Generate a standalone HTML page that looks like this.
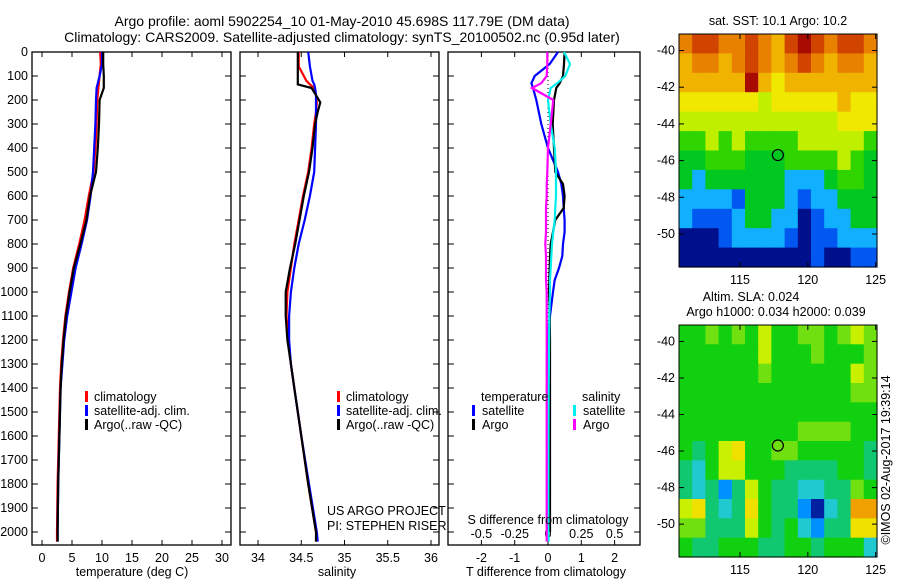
<!DOCTYPE html>
<html><head><meta charset="utf-8"><style>
body{margin:0;background:#fff}
svg{display:block;font-family:"Liberation Sans",sans-serif;font-size:12.5px}
</style></head><body>
<svg id="c" width="900" height="580" xmlns="http://www.w3.org/2000/svg">
<text x="342" y="26" text-anchor="middle" style="font-size:14px">Argo profile: aoml 5902254_10 01-May-2010 45.698S 117.79E (DM data)</text>
<text x="342" y="42" text-anchor="middle" style="font-size:14px">Climatology: CARS2009. Satellite-adjusted climatology: synTS_20100502.nc (0.95d later)</text>
<g id="g"></g>
</svg>
<script>
// ---- data ----
const depths=[0,50,100,150,200,300,400,500,600,700,800,900,1000,1100,1200,1300,1400,1600,1800,2000,2040];
const tempClim=[9.7,9.8,9.6,9.4,9.2,9.1,8.9,8.6,7.8,7.1,6.2,5.2,4.5,3.9,3.5,3.2,3.0,2.8,2.6,2.5,2.5];
const tempSat=[10.0,10.0,9.6,9.1,9.0,8.9,8.7,8.5,8.1,7.5,6.6,5.6,4.9,4.2,3.7,3.4,3.1,2.9,2.7,2.6,2.6];
const tempArgo=[10.2,10.2,10.3,10.3,9.6,9.5,9.3,9.0,8.0,7.4,6.4,5.3,4.6,4.0,3.6,3.3,3.1,2.9,2.7,2.6,2.6];
const salDepths=[0,60,120,135,150,180,210,250,300,400,500,600,700,800,900,1000,1100,1200,1300,1400,1600,1800,2000,2040];
const salClim=[34.47,34.47,34.56,34.6,34.65,34.67,34.68,34.67,34.65,34.62,34.58,34.52,34.47,34.42,34.38,34.34,34.33,34.35,34.38,34.42,34.5,34.58,34.67,34.68];
const salSat=[34.58,34.6,34.63,34.65,34.66,34.67,34.67,34.67,34.67,34.66,34.65,34.6,34.54,34.47,34.42,34.38,34.36,34.36,34.38,34.42,34.5,34.59,34.68,34.69];
const salArgo=[34.46,34.46,34.46,34.46,34.62,34.67,34.72,34.69,34.66,34.63,34.59,34.53,34.48,34.43,34.37,34.32,34.32,34.34,34.38,34.42,34.5,34.58,34.67,34.67];
const diffDepths=[0,50,100,130,150,200,300,400,500,550,600,650,700,750,800,850,900,950,1000,1100,1200,1400,1600,1850,2000,2040];
const dTSat=[0.3,0.05,-0.4,-0.5,-0.45,-0.35,-0.2,0.0,0.3,0.4,0.45,0.47,0.5,0.5,0.45,0.43,0.33,0.2,0.15,0.06,-0.02,-0.03,-0.03,-0.03,null,null];
const dTArgo=[0.5,0.48,0.45,0.35,0.25,0.18,0.14,0.18,0.22,0.45,0.5,0.47,0.22,0.15,0.08,0.06,0.05,0.04,0.03,0.05,0.06,0.06,0.06,0.06,0.06,null];
const dSSat=[0.12,0.165,0.13,0.07,0.02,0.0,0.02,0.05,0.06,0.06,0.06,0.055,0.05,0.04,0.03,0.025,0.02,0.015,0.015,0.01,0.008,0.005,0.004,0.003,0.003,0.005];
const dSArgo=[-0.005,-0.005,-0.01,-0.05,-0.12,0.04,0.02,0.0,-0.005,-0.01,-0.01,-0.015,-0.015,-0.015,-0.02,-0.015,-0.015,-0.015,-0.01,-0.01,-0.01,-0.01,-0.01,-0.01,-0.01,-0.01];
const depthTicks=[0,100,200,300,400,500,600,700,800,900,1000,1100,1200,1300,1400,1500,1600,1700,1800,1900,2000];
const tempTicks=[0,5,10,15,20,25,30];
const salTicks=[34,34.5,35,35.5,36];
const salTickLabels=["34","34.5","35","35.5","36"];
const dTTicks=[-2,-1,0,1,2];
const dSTicks=[-0.5,-0.25,0,0.25,0.5];
const dSTickLabels=["-0.5","-0.25","0","0.25","0.5"];
const latTicks=[-40,-42,-44,-46,-48,-50];
const lonTicks=[115,120,125];
const argoLon=117.79, argoLat=-45.698;
const sstGrid=[
[8,9,9,8,8,9,8,7,9,10,9,8,9,9,8],
[7,8,8,7,8,9,8,7,8,9,8,7,8,8,7],
[7,7,7,7,7,10,7,6,7,7,7,7,7,7,7],
[6,6,6,6,6,6,5,6,6,6,6,6,7,6,6],
[5,5,5,5,5,5,5,5,5,5,5,5,6,6,6],
[4,4,5,4,5,4,4,4,4,5,5,5,5,5,4],
[3,3,4,4,4,3,3,3,4,4,4,4,5,4,3],
[3,2,3,3,3,3,3,3,2,2,2,3,4,4,3],
[2,2,2,2,1,3,3,3,2,1,2,2,3,3,3],
[2,1,1,1,2,3,3,2,2,0,1,2,2,3,3],
[0,0,0,1,2,2,2,2,1,0,1,1,2,2,2],
[0,0,0,0,0,0,0,0,0,0,1,0,0,1,1]];
const slaGrid=[
[4,4,5,4,5,4,6,4,4,5,5,4,5,6,5],
[4,4,4,4,4,4,6,4,4,4,5,4,4,4,5],
[4,4,4,4,4,4,5,4,4,4,4,4,4,6,5],
[4,4,4,4,4,4,4,4,4,4,4,4,4,5,5],
[4,4,4,4,4,4,4,4,4,4,4,4,4,4,4],
[4,4,4,4,4,4,4,4,4,5,5,5,5,4,4],
[4,3,4,6,7,4,4,5,5,4,4,4,4,4,3],
[3,2,4,6,6,4,4,4,3,3,3,3,4,4,3],
[3,2,3,1,3,6,4,3,3,2,2,3,3,5,4],
[6,7,3,2,3,7,4,3,3,1,0,2,3,8,8],
[5,5,3,3,3,6,4,3,4,2,1,3,3,7,7],
[4,3,3,4,4,4,3,3,4,4,3,4,4,4,2]];
const sstColors=["#00108c","#0058f0","#10b0ff","#00c820","#30d400","#c0f000","#f0e800","#f0b400","#e88000","#d04400","#a80c00"];
const slaColors=["#0020a0","#0090ff","#20c8d0","#10c870","#10d010","#70e010","#c8f000","#f0e000","#f0a000"];

// ---- drawing ----
const NS="http://www.w3.org/2000/svg";
const G=document.getElementById('g');
function mk(tag,attrs,parent){const e=document.createElementNS(NS,tag);for(const k in attrs)e.setAttribute(k,attrs[k]);(parent||G).appendChild(e);return e;}
function txt(x,y,s,anchor,parent){const t=mk('text',{x:x,y:y,'text-anchor':anchor||'start'},parent);t.textContent=s;return t;}
const Y=d=>52+0.24*d;
const PB=545;
function tempX(v){return 42+6*v;}
function salX(v){return 258+86.5*(v-34);}
function dTX(v){return 548+33.3*v;}
function dSX(v){return 548+133.2*v;}
function panel(x0,x1,name){const r=mk('rect',{x:x0,y:Y(0),width:x1-x0,height:PB-Y(0),fill:'none',stroke:'#000','stroke-width':1.3});


depthTicks.forEach(d=>{mk('line',{x1:x0,x2:x0+6,y1:Y(d),y2:Y(d),stroke:'#000'});mk('line',{x1:x1-6,x2:x1,y1:Y(d),y2:Y(d),stroke:'#000'});});}
function line(xs,ds,fx,color,name,w){let p='';let started=false;
xs.forEach((v,i)=>{if(v===null)return;p+=(started?'L':'M')+fx(v).toFixed(1)+','+Y(ds[i]).toFixed(1);started=true;});
const e=mk('path',{d:p,fill:'none',stroke:color,'stroke-width':w||2.2});

}
// panel 1
panel(32,231,'temperature-axes');
depthTicks.forEach(d=>{const t=txt(28,Y(d)+4,String(d),'end');});
tempTicks.forEach(v=>{mk('line',{x1:tempX(v),x2:tempX(v),y1:Y(0),y2:Y(0)+5,stroke:'#000'});mk('line',{x1:tempX(v),x2:tempX(v),y1:PB-5,y2:PB,stroke:'#000'});
const t=txt(tempX(v),562,String(v),'middle');});
line(tempClim,depths,tempX,'#f00','temp-climatology-line');
line(tempSat,depths,tempX,'#00f','temp-satellite-line');
line(tempArgo,depths,tempX,'#000','temp-argo-line');
const xl1=txt(132,576,'temperature (deg C)','middle');
// panel 2
panel(240,439,'salinity-axes');
salTicks.forEach((v,i)=>{mk('line',{x1:salX(v),x2:salX(v),y1:Y(0),y2:Y(0)+5,stroke:'#000'});mk('line',{x1:salX(v),x2:salX(v),y1:PB-5,y2:PB,stroke:'#000'});
const t=txt(salX(v),562,salTickLabels[i],'middle');});
line(salClim,salDepths,salX,'#f00','sal-climatology-line');
line(salSat,salDepths,salX,'#00f','sal-satellite-line');
line(salArgo,salDepths,salX,'#000','sal-argo-line');
const xl2=txt(337,576,'salinity','middle');
const lg=[['#f00','climatology'],['#00f','satellite-adj. clim.'],['#000','Argo(..raw -QC)']];
[[87,'temp-legend'],[339,'sal-legend']].forEach(([lx,nm])=>{const gg=mk('g',{});
lg.forEach((l,i)=>{mk('rect',{x:lx-2,y:391+i*14,width:3,height:11,fill:l[0]},gg);txt(lx+7,401+i*14,l[1],'start',gg);});});
const cr=mk('g',{});
txt(327,515,'US ARGO PROJECT','start',cr);txt(327,530,'PI: STEPHEN RISER','start',cr);
// panel 3
panel(448,640,'difference-axes');
mk('line',{x1:dTX(0),x2:dTX(0),y1:Y(0),y2:Y(1150),stroke:'#000','stroke-dasharray':'1,3'});
dTTicks.forEach(v=>{mk('line',{x1:dTX(v),x2:dTX(v),y1:Y(0),y2:Y(0)+5,stroke:'#000'});mk('line',{x1:dTX(v),x2:dTX(v),y1:PB-5,y2:PB,stroke:'#000'});
const t=txt(dTX(v),562,String(v),'middle');});
dSTicks.forEach((v,i)=>{const t=txt(dSX(v),538,dSTickLabels[i],'middle');});
line(dTSat,diffDepths,dTX,'#00f','t-diff-satellite-line');
line(dTArgo,diffDepths,dTX,'#000','t-diff-argo-line');
line(dSSat,diffDepths,dSX,'#0ee','s-diff-satellite-line');
line(dSArgo,diffDepths,dSX,'#f0f','s-diff-argo-line');
const sl=txt(548,524,'S difference from climatology','middle');
const tl=txt(546,576,'T difference from climatology','middle');
const lg3=mk('g',{});
txt(481,401,'temperature','start',lg3);txt(582,401,'salinity','start',lg3);
[['#00f','satellite',472],['#000','Argo',472],['#0ee','satellite',573],['#f0f','Argo',573]].forEach((l,i)=>{const r=i%2;mk('rect',{x:l[2],y:405+r*14,width:3,height:11,fill:l[0]},lg3);txt(l[2]+10,415+r*14,l[1],'start',lg3);});
// maps
const LON0=110.5,LON1=125.1,LAT0=-39.1,LAT1=-51.8;
function map(top,bottom,grid,colors,name){
const lx=v=>679+(v-LON0)*(877-679)/(LON1-LON0);
const ly=v=>top+(v-LAT0)*(bottom-top)/(LAT1-LAT0);
const gg=mk('g',{});
const nr=grid.length,nc=grid[0].length;
const dlon=(LON1-LON0)/nc,dlat=(LAT1-LAT0)/nr;
grid.forEach((row,i)=>row.forEach((v,j)=>{const x0=lx(LON0+j*dlon),x1=lx(LON0+(j+1)*dlon),y0=ly(LAT0+i*dlat),y1=ly(LAT0+(i+1)*dlat);
const c=mk('rect',{x:x0.toFixed(1),y:y0.toFixed(1),width:(x1-x0+0.6).toFixed(1),height:(y1-y0+0.6).toFixed(1),fill:colors[v]},gg);

}));
mk('rect',{x:679,y:top,width:198,height:bottom-top,fill:'none',stroke:'#000'},gg);
latTicks.forEach(v=>{mk('line',{x1:679,x2:684,y1:ly(v),y2:ly(v),stroke:'#000'},gg);mk('line',{x1:872,x2:877,y1:ly(v),y2:ly(v),stroke:'#000'},gg);txt(675,ly(v)+4,String(v),'end',gg);});
lonTicks.forEach(v=>{mk('line',{x1:lx(v),x2:lx(v),y1:bottom-5,y2:bottom,stroke:'#000'},gg);mk('line',{x1:lx(v),x2:lx(v),y1:top,y2:top+5,stroke:'#000'},gg);txt(lx(v),bottom+17,String(v),'middle',gg);});
const ci=mk('circle',{cx:lx(argoLon),cy:ly(argoLat),r:5.5,fill:'none',stroke:'#000','stroke-width':1.2},gg);

}
map(34,267,sstGrid,sstColors,'sst-map');
map(325,557,slaGrid,slaColors,'sla-map');
const m1=txt(778,25,'sat. SST: 10.1 Argo: 10.2','middle');
const m2=txt(751,301,'Altim. SLA: 0.024','middle');
const m3=txt(776,316,'Argo h1000: 0.034 h2000: 0.039','middle');
const cp=txt(0,0,'©IMOS 02-Aug-2017 19:39:14','middle');cp.setAttribute('transform','translate(890,460) rotate(-90)');


</script>
</body></html>
